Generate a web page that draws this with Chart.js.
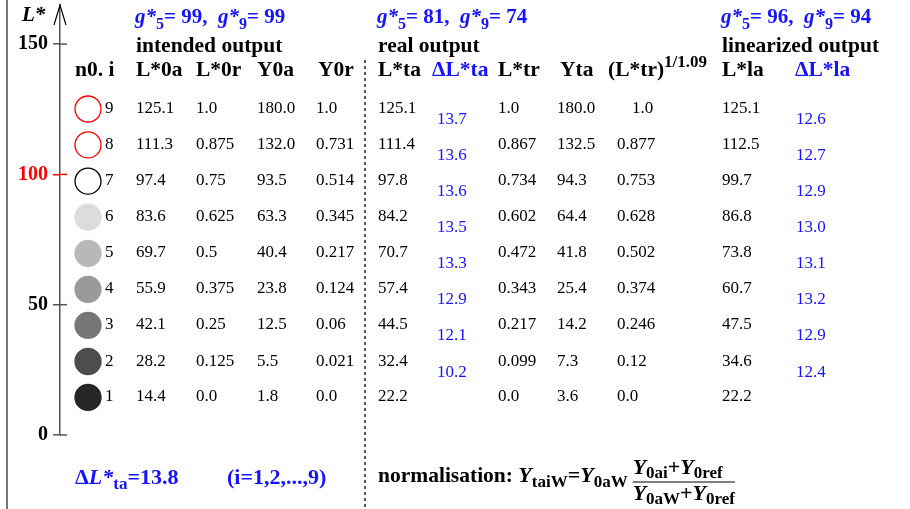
<!DOCTYPE html>
<html>
<head>
<meta charset="utf-8">
<script src="https://cdn.jsdelivr.net/npm/chart.js@4.4.0/dist/chart.umd.min.js"></script>
<style>
  html, body { margin: 0; padding: 0; background: #fff; }
  #wrap { width: 910px; height: 509px; position: relative; }
</style>
</head>
<body>
<div id="wrap"><canvas id="lstarChart"></canvas></div>
<script>
// data (rows 9 .. 1)
const rowNo  = [9, 8, 7, 6, 5, 4, 3, 2, 1];
const L0a    = [125.1, 111.3, 97.4, 83.6, 69.7, 55.9, 42.1, 28.2, 14.4];
const L0r    = ['1.0', '0.875', '0.75', '0.625', '0.5', '0.375', '0.25', '0.125', '0.0'];
const Y0a    = ['180.0', '132.0', '93.5', '63.3', '40.4', '23.8', '12.5', '5.5', '1.8'];
const Y0r    = ['1.0', '0.731', '0.514', '0.345', '0.217', '0.124', '0.06', '0.021', '0.0'];
const Lta    = ['125.1', '111.4', '97.8', '84.2', '70.7', '57.4', '44.5', '32.4', '22.2'];
const dLta   = ['13.7', '13.6', '13.6', '13.5', '13.3', '12.9', '12.1', '10.2'];
const Ltr    = ['1.0', '0.867', '0.734', '0.602', '0.472', '0.343', '0.217', '0.099', '0.0'];
const Yta    = ['180.0', '132.5', '94.3', '64.4', '41.8', '25.4', '14.2', '7.3', '3.6'];
const Ltr109 = ['1.0', '0.877', '0.753', '0.628', '0.502', '0.374', '0.246', '0.12', '0.0'];
const Lla    = ['125.1', '112.5', '99.7', '86.8', '73.8', '60.7', '47.5', '34.6', '22.2'];
const dLla   = ['12.6', '12.7', '12.9', '13.0', '13.1', '13.2', '12.9', '12.4'];
const yTicks = [0, 50, 100, 150];
const gIntended = ['99', '99'];
const gReal     = ['81', '74'];
const gLinear   = ['96', '94'];
const meanDeltaLta = '13.8';

// styles
const BLUE = '#1414ff';
const RED = '#ff0000';
const SERIF = '"Liberation Serif", "Times New Roman", serif';
const circleFill   = ['#ffffff', '#ffffff', '#ffffff', '#dcdcdc', '#b8b8b8', '#9a9a9a', '#777777', '#4d4d4d', '#262626'];
const circleStroke = [RED, RED, '#000000', '#dcdcdc', '#b8b8b8', '#9a9a9a', '#777777', '#4d4d4d', '#262626'];
const CIRCLE_X = 88;

function fnt(size, bold, italic) {
  return (italic ? 'italic ' : '') + (bold ? 'bold ' : '') + size + 'px ' + SERIF;
}

function drawRuns(ctx, x, y, runs, color) {
  runs.forEach(r => {
    ctx.font = r.font;
    ctx.fillStyle = r.color || color || '#000';
    ctx.fillText(r.t, x, y + (r.dy || 0));
    x += ctx.measureText(r.t).width;
  });
  return x;
}

function measureRuns(ctx, runs) {
  let w = 0;
  runs.forEach(r => { ctx.font = r.font; w += ctx.measureText(r.t).width; });
  return w;
}

// table columns: value list, left x
const columns = [
  { vals: rowNo,  x: 105 },
  { vals: L0a.map(v => v.toFixed(1)), x: 136 },
  { vals: L0r,    x: 196 },
  { vals: Y0a,    x: 257 },
  { vals: Y0r,    x: 316 },
  { vals: Lta,    x: 378 },
  { vals: Ltr,    x: 498 },
  { vals: Yta,    x: 557 },
  { vals: Ltr109, x: 617, firstShift: 15 },
  { vals: Lla,    x: 722 }
];
const deltaCols = [
  { vals: dLta, x: 437 },
  { vals: dLla, x: 796 }
];

function gHeader(vals) {
  const big = fnt(21, true, false), bigI = fnt(21, true, true), sub = fnt(16, true, false);
  return [
    { t: 'g*', font: bigI }, { t: '5', font: sub, dy: 6 }, { t: '= ' + vals[0] + ',  ', font: big },
    { t: 'g*', font: bigI }, { t: '9', font: sub, dy: 6 }, { t: '= ' + vals[1], font: big }
  ];
}

const tablePlugin = {
  id: 'tablePlugin',
  afterDraw(chart) {
    const ctx = chart.ctx;
    const ys = chart.scales.y;
    const area = chart.chartArea;
    const ax = area.left;
    ctx.save();

    // left frame line
    ctx.strokeStyle = '#777';
    ctx.lineWidth = 2;
    ctx.beginPath(); ctx.moveTo(7, 0); ctx.lineTo(7, 509); ctx.stroke();

    // right half of tick marks + arrow head
    ctx.lineWidth = 1.5;
    yTicks.forEach(v => {
      const py = ys.getPixelForValue(v);
      ctx.strokeStyle = v === 100 ? RED : '#555';
      ctx.beginPath(); ctx.moveTo(ax, py); ctx.lineTo(ax + 7, py); ctx.stroke();
    });
    ctx.strokeStyle = '#000';
    ctx.lineWidth = 1.2;
    ctx.beginPath();
    ctx.moveTo(ax - 6, area.top + 20); ctx.lineTo(ax, area.top); ctx.lineTo(ax + 6, area.top + 20);
    ctx.stroke();

    ctx.textBaseline = 'alphabetic';
    // axis title
    drawRuns(ctx, 22, 21, [{ t: 'L*', font: fnt(21, true, true) }], '#000');

    // dashed separator
    ctx.strokeStyle = '#000';
    ctx.lineWidth = 1.3;
    ctx.setLineDash([3, 3]);
    ctx.beginPath(); ctx.moveTo(365, 60); ctx.lineTo(365, 509); ctx.stroke();
    ctx.setLineDash([]);

    // group headers
    drawRuns(ctx, 135, 23, gHeader(gIntended), BLUE);
    drawRuns(ctx, 377, 23, gHeader(gReal), BLUE);
    drawRuns(ctx, 721, 23, gHeader(gLinear), BLUE);
    const hb = fnt(21.5, true, false);
    drawRuns(ctx, 136, 52, [{ t: 'intended output', font: hb }]);
    drawRuns(ctx, 378, 52, [{ t: 'real output', font: hb }]);
    drawRuns(ctx, 722, 52, [{ t: 'linearized output', font: hb }]);

    // column headers
    const hy = 76;
    [['n0. i', 75], ['L*0a', 136], ['L*0r', 196], ['Y0a', 257], ['Y0r', 318],
     ['L*ta', 378], ['L*tr', 498], ['Yta', 560], ['L*la', 722]].forEach(h => {
      drawRuns(ctx, h[1], hy, [{ t: h[0], font: hb }]);
    });
    drawRuns(ctx, 432, hy, [{ t: '\u0394L*ta', font: hb }], BLUE);
    drawRuns(ctx, 795, hy, [{ t: '\u0394L*la', font: hb }], BLUE);
    drawRuns(ctx, 608, hy, [{ t: '(L*tr)', font: hb }, { t: '1/1.09', font: fnt(17, true, false), dy: -9 }]);

    // table body, one row per intended L* level
    const bodyFont = fnt(17, false, false);
    L0a.forEach((v, i) => {
      const py = ys.getPixelForValue(v);
      columns.forEach(c => {
        const sx = c.x + (i === 0 && c.firstShift ? c.firstShift : 0);
        drawRuns(ctx, sx, py + 4, [{ t: String(c.vals[i]), font: bodyFont }], '#000');
      });
      deltaCols.forEach(c => {
        if (i < c.vals.length) drawRuns(ctx, c.x, py + 15, [{ t: c.vals[i], font: bodyFont }], BLUE);
      });
    });

    // bottom line, left part
    const by = 484;
    const bb = fnt(22, true, false), bbi = fnt(22, true, true), bsub = fnt(17, true, false);
    drawRuns(ctx, 75, by, [
      { t: '\u0394', font: bb }, { t: 'L*', font: bbi }, { t: 'ta', font: bsub, dy: 5 }, { t: '=' + meanDeltaLta, font: bb }
    ], BLUE);
    drawRuns(ctx, 227, by, [{ t: '(i=1,2,...,9)', font: bb }], BLUE);

    // normalisation formula
    let nx = drawRuns(ctx, 378, 482, [
      { t: 'normalisation: ', font: fnt(21.5, true, false) },
      { t: 'Y', font: bbi }, { t: 'taiW', font: bsub, dy: 5 },
      { t: '=', font: bb },
      { t: 'Y', font: bbi }, { t: '0aW', font: bsub, dy: 5 }
    ], '#000');
    nx += 5;
    const fm = fnt(22, true, true), fp = fnt(22, true, false), fs = fnt(17, true, false);
    const num = [{ t: 'Y', font: fm }, { t: '0ai', font: fs, dy: 4 }, { t: '+', font: fp }, { t: 'Y', font: fm }, { t: '0ref', font: fs, dy: 4 }];
    const den = [{ t: 'Y', font: fm }, { t: '0aW', font: fs, dy: 4 }, { t: '+', font: fp }, { t: 'Y', font: fm }, { t: '0ref', font: fs, dy: 4 }];
    const fw = Math.max(measureRuns(ctx, num), measureRuns(ctx, den));
    drawRuns(ctx, nx, 474, num, '#000');
    ctx.strokeStyle = '#000';
    ctx.lineWidth = 1.2;
    ctx.beginPath(); ctx.moveTo(nx, 482); ctx.lineTo(nx + fw, 482); ctx.stroke();
    drawRuns(ctx, nx, 500, den, '#000');

    ctx.restore();
  }
};

const ctx = document.getElementById('lstarChart').getContext('2d');
new Chart(ctx, {
  type: 'scatter',
  data: {
    datasets: [{
      data: L0a.map(v => ({ x: CIRCLE_X, y: v })),
      pointRadius: 13,
      pointHoverRadius: 13,
      pointBackgroundColor: circleFill,
      pointBorderColor: circleStroke,
      pointBorderWidth: 1.3
    }]
  },
  options: {
    responsive: true,
    maintainAspectRatio: false,
    animation: false,
    events: [],
    layout: { autoPadding: false, padding: { top: 5, bottom: 74, left: 0, right: 0 } },
    plugins: { legend: { display: false }, tooltip: { enabled: false } },
    scales: {
      x: { type: 'linear', min: 60, max: 910, display: false },
      y: {
        min: 0,
        max: 165,
        afterBuildTicks: s => { s.ticks = yTicks.map(v => ({ value: v })); },
        afterFit: s => { s.width = 60; s.paddingTop = 0; s.paddingBottom = 0; },
        border: { color: '#555', width: 1.5 },
        grid: { drawOnChartArea: false, tickLength: 7, color: c => (c.tick && c.tick.value === 100 ? RED : '#555'), lineWidth: 1.5 },
        ticks: {
          padding: 5,
          font: { family: SERIF, size: 20, weight: 'bold' },
          color: c => (c.tick && c.tick.value === 100 ? RED : '#000')
        }
      }
    }
  },
  plugins: [tablePlugin]
});
</script>
</body>
</html>
